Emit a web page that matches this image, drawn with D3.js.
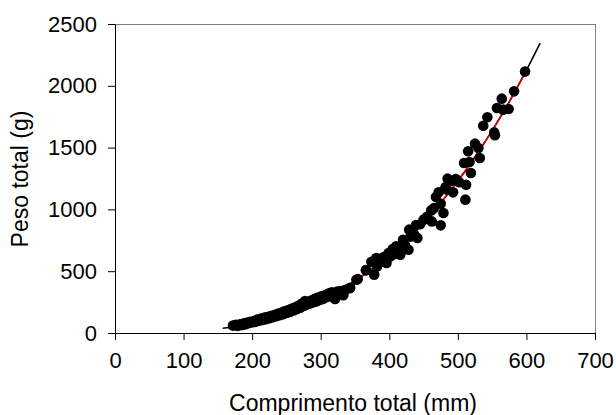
<!DOCTYPE html>
<html>
<head>
<meta charset="utf-8">
<script src="https://cdn.jsdelivr.net/npm/d3@7"></script>
<style>
  html, body { margin: 0; padding: 0; background: #fff; }
  svg { display: block; }
  text { font-family: "Liberation Sans", Arial, sans-serif; fill: #000; }
</style>
</head>
<body>
<svg id="chart" width="616" height="415"></svg>
<script>
// ---- Data ----
const xTicks = [0, 100, 200, 300, 400, 500, 600, 700];
const yTicks = [0, 500, 1000, 1500, 2000, 2500];
const xTitle = "Comprimento total (mm)";
const yTitle = "Peso total (g)";

// observed fish: total length (mm) and total weight (g)
const lengths = [172,176,179,182,185,188,190,193,195,197,200,203,205,208,210,213,215,218,220,222,
  225,227,230,232,235,237,240,242,245,247,250,252,255,257,260,262,265,267,270,272,
  275,277,279,281,284,286,289,291,294,296,299,301,303,306,308,311,313,316,319,321,
  324,329,333,336,342,343,352,354,366,366,374,378,381,382,386,389,392,396,399,402,
  405,408,410,413,416,420,423,428,429,431,436,439,441,445,450,455,461,462,465,468,
  472,475,475,479,482,484,485,490,493,497,502,509,511,512,515,517,519,525,530,532,
  537,543,553,554,557,564,566,574,582,598];
const weights = [60,66,58,70,64,78,70,84,80,90,86,98,90,108,100,116,106,124,112,130,
  120,138,128,146,136,156,144,164,152,176,162,184,170,196,182,206,192,220,204,236,
  218,258,228,250,238,262,248,276,256,286,268,296,276,305,290,320,300,330,285,275,
  335,340,305,350,362,366,431,437,507,510,577,472,607,539,570,593,615,566,647,620,
  680,640,701,660,634,755,710,674,836,780,800,874,769,880,917,940,992,903,1010,1100,
  1138,1046,871,971,1180,1160,1249,1230,1138,1246,1220,1375,1079,1200,1470,1383,1294,1532,1497,1416,
  1677,1745,1623,1600,1820,1896,1807,1812,1955,2115];

// fitted length-weight curve
const curveL = [157,160,180,200,220,240,260,280,300,320,340,360,380,400,420,440,460,480,500,520,540,560,580,600,620];
const curveW = [38,40,57,79,105,136,173,216,266,323,387,459,540,630,729,838,958,1088,1230,1384,1550,1728,1920,2126,2346];
// second (red) fitted curve, across the observed range
const redL = [172,180,200,220,240,260,280,300,320,340,360,380,400,420,440,460,480,500,520,540,560,580,598];
const redW = [50,57,79,105,136,173,216,266,323,387,459,540,630,729,838,958,1088,1230,1384,1550,1728,1920,2104];

const points = lengths.map((l, i) => ({ l: l, w: weights[i] }));

// ---- Layout ----
const svg = d3.select("#chart");
const mLeft = 115, mRight = 595, mTop = 24, mBottom = 333;

const x = d3.scaleLinear().domain([0, 700]).range([mLeft, mRight]);
const y = d3.scaleLinear().domain([0, 2500]).range([mBottom, mTop]);

// frame: top and right in grey
svg.append("line").attr("x1", mLeft).attr("x2", mRight).attr("y1", mTop + 0.5).attr("y2", mTop + 0.5)
  .attr("stroke", "#808080").attr("stroke-width", 1);
svg.append("line").attr("x1", mRight + 0.5).attr("x2", mRight + 0.5).attr("y1", mTop).attr("y2", mBottom)
  .attr("stroke", "#808080").attr("stroke-width", 1);

// axes
const fmt = d3.format("d");
const xAxis = d3.axisBottom(x).tickValues(xTicks).tickFormat(fmt).tickSize(7).tickSizeOuter(0).tickPadding(12);
const yAxis = d3.axisLeft(y).tickValues(yTicks).tickFormat(fmt).tickSize(7).tickSizeOuter(0).tickPadding(11);

const gx = svg.append("g").attr("transform", `translate(0,${mBottom})`).call(xAxis);
const gy = svg.append("g").attr("transform", `translate(${mLeft},0)`).call(yAxis);
[gx, gy].forEach(g => {
  g.selectAll("path.domain").attr("stroke", "#000");
  g.selectAll(".tick line").attr("stroke", "#000");
  g.selectAll(".tick text").attr("font-size", 22).attr("font-family", "'Liberation Sans', Arial, sans-serif").attr("fill", "#000");
});

// curves
const line = d3.line().x(d => x(d[0])).y(d => y(d[1])).curve(d3.curveMonotoneX);
svg.append("path")
  .datum(curveL.map((l, i) => [l, curveW[i]]))
  .attr("d", line).attr("fill", "none").attr("stroke", "#000").attr("stroke-width", 1.6);
svg.append("path")
  .datum(redL.map((l, i) => [l, redW[i]]))
  .attr("d", line).attr("fill", "none").attr("stroke", "#e00000").attr("stroke-width", 1.6);

// points
svg.append("g").selectAll("circle").data(points).join("circle")
  .attr("cx", d => x(d.l)).attr("cy", d => y(d.w)).attr("r", 5.3).attr("fill", "#000");

// titles
svg.append("text").attr("x", (mLeft + mRight) / 2 - 2).attr("y", 411)
  .attr("text-anchor", "middle").attr("font-size", 23).text(xTitle);
svg.append("text").attr("transform", `translate(28,179) rotate(-90)`)
  .attr("text-anchor", "middle").attr("font-size", 23).text(yTitle);
</script>
</body>
</html>
